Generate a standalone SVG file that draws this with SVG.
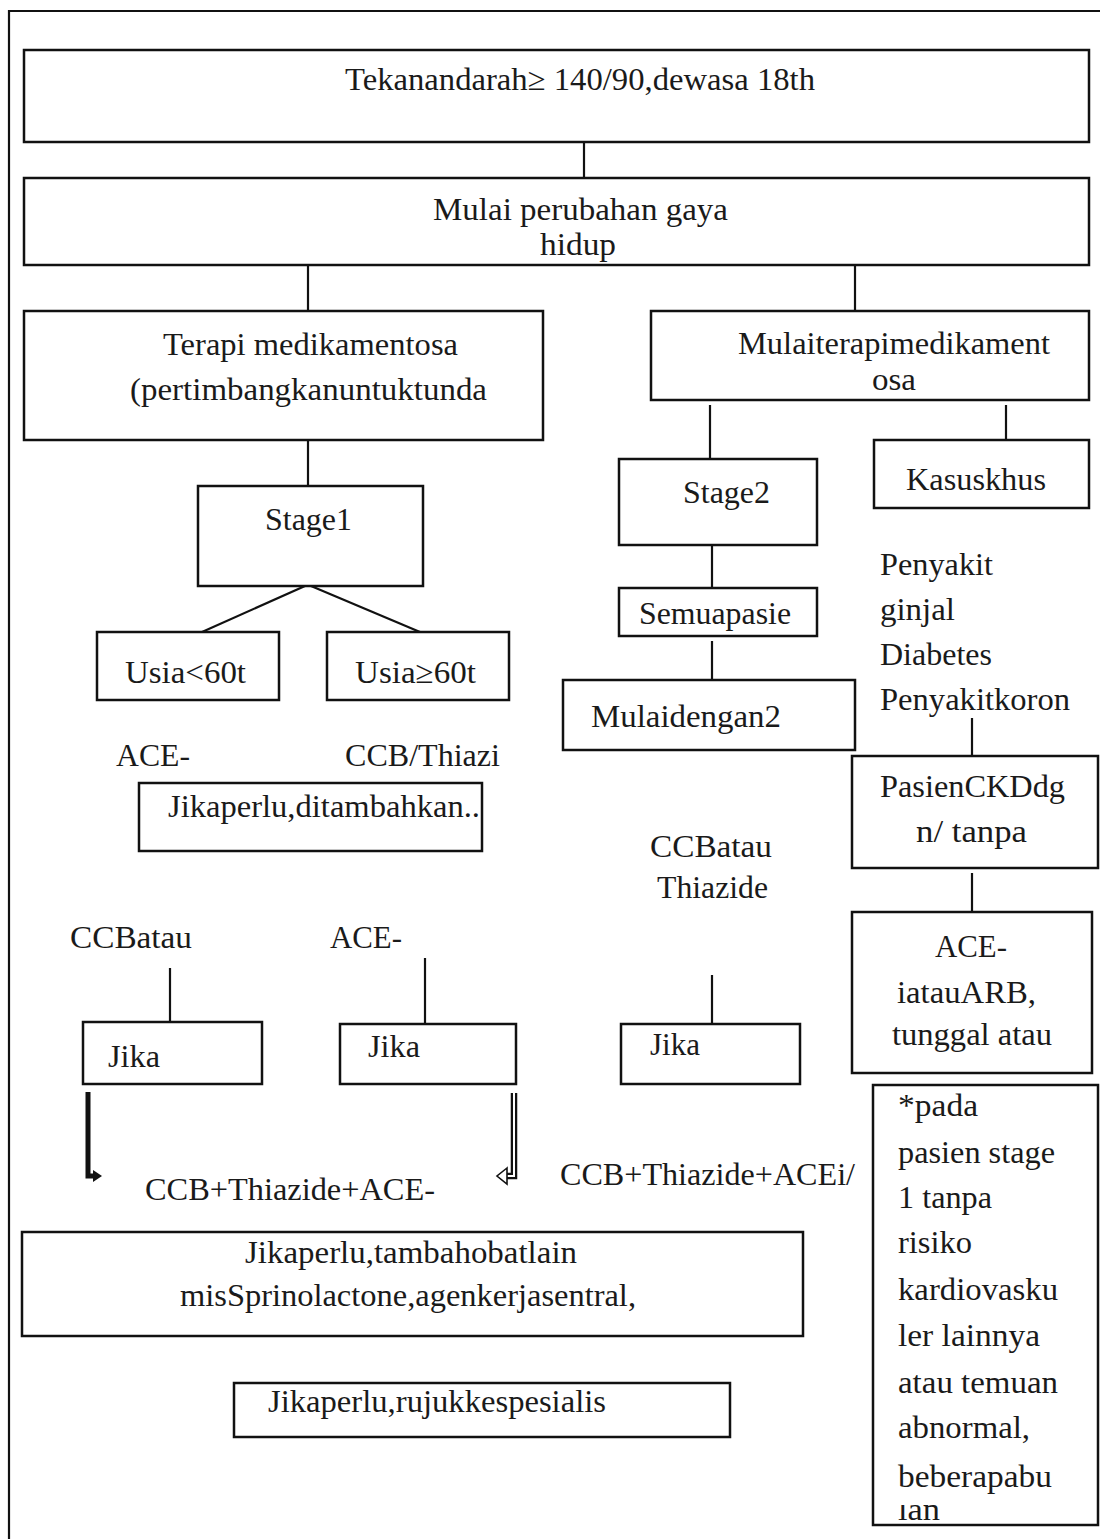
<svg xmlns="http://www.w3.org/2000/svg" width="1100" height="1539" viewBox="0 0 1100 1539">
<style>
.box{fill:none;stroke:#111;stroke-width:2.5}
.ln{fill:none;stroke:#111;stroke-width:2.2}
.t{font-family:"Liberation Serif","Times New Roman",serif;font-size:32px;fill:#1a1a1a}
</style>
<defs>
<clipPath id="noteclip"><rect x="880" y="1505" width="200" height="25"/></clipPath>
</defs>
<rect width="1100" height="1539" fill="#fff"/>
<path d="M9,1539 V11 H1100" fill="none" stroke="#111" stroke-width="2.2"/>

<g id="connectors">
<line class="ln" x1="584" y1="142" x2="584" y2="178"/>
<line class="ln" x1="308" y1="265" x2="308" y2="311"/>
<line class="ln" x1="855" y1="265" x2="855" y2="311"/>
<line class="ln" x1="308" y1="440" x2="308" y2="486"/>
<line class="ln" x1="305" y1="586" x2="202" y2="632"/>
<line class="ln" x1="311" y1="586" x2="420" y2="632"/>
<line class="ln" x1="710" y1="405" x2="710" y2="459"/>
<line class="ln" x1="1006" y1="405" x2="1006" y2="440"/>
<line class="ln" x1="712" y1="545" x2="712" y2="588"/>
<line class="ln" x1="712" y1="641" x2="712" y2="680"/>
<line class="ln" x1="972" y1="718" x2="972" y2="756"/>
<line class="ln" x1="972" y1="873" x2="972" y2="912"/>
<line class="ln" x1="170" y1="968" x2="170" y2="1022"/>
<line class="ln" x1="425" y1="958" x2="425" y2="1024"/>
<line class="ln" x1="712" y1="975" x2="712" y2="1024"/>
<path d="M88,1092 V1176 H94" fill="none" stroke="#111" stroke-width="5"/>
<polygon points="93,1170 102,1176 93,1182" fill="#111"/>
<path d="M514,1093 V1176 H505" fill="none" stroke="#111" stroke-width="6.5"/>
<path d="M514,1093 V1176 H505" fill="none" stroke="#fff" stroke-width="2"/>
<polygon points="507,1168 497,1176 507,1184" fill="#fff" stroke="#111" stroke-width="1.6"/>
</g>

<g id="n1"><rect class="box" x="24" y="50" width="1065" height="92"/>
<text class="t" x="345" y="90" textLength="470" lengthAdjust="spacingAndGlyphs">Tekanandarah≥ 140/90,dewasa 18th</text></g>

<g id="n2"><rect class="box" x="24" y="178" width="1065" height="87"/>
<text class="t" x="433" y="220" textLength="295" lengthAdjust="spacingAndGlyphs">Mulai perubahan gaya</text>
<text class="t" x="540" y="255" textLength="76" lengthAdjust="spacingAndGlyphs">hidup</text></g>

<g id="n3"><rect class="box" x="24" y="311" width="519" height="129"/>
<text class="t" x="163" y="355" textLength="295" lengthAdjust="spacingAndGlyphs">Terapi medikamentosa</text>
<text class="t" x="130" y="400" textLength="357" lengthAdjust="spacingAndGlyphs">(pertimbangkanuntuktunda</text></g>

<g id="n4"><rect class="box" x="651" y="311" width="438" height="89"/>
<text class="t" x="738" y="354" textLength="312" lengthAdjust="spacingAndGlyphs">Mulaiterapimedikament</text>
<text class="t" x="872" y="390" textLength="44" lengthAdjust="spacingAndGlyphs">osa</text></g>

<g id="n5"><rect class="box" x="198" y="486" width="225" height="100"/>
<text class="t" x="265" y="530" textLength="87" lengthAdjust="spacingAndGlyphs">Stage1</text></g>

<g id="n6"><rect class="box" x="97" y="632" width="182" height="68"/>
<text class="t" x="125" y="683" textLength="121" lengthAdjust="spacingAndGlyphs">Usia&lt;60t</text></g>

<g id="n7"><rect class="box" x="327" y="632" width="182" height="68"/>
<text class="t" x="355" y="683" textLength="121" lengthAdjust="spacingAndGlyphs">Usia≥60t</text></g>

<g id="lbl1"><text class="t" x="116" y="766" textLength="74" lengthAdjust="spacingAndGlyphs">ACE-</text>
<text class="t" x="345" y="766" textLength="155" lengthAdjust="spacingAndGlyphs">CCB/Thiazi</text></g>

<g id="n8"><rect class="box" x="139" y="783" width="343" height="68"/>
<text class="t" x="168" y="817" textLength="312" lengthAdjust="spacingAndGlyphs">Jikaperlu,ditambahkan..</text></g>

<g id="n9"><rect class="box" x="619" y="459" width="198" height="86"/>
<text class="t" x="683" y="503" textLength="87" lengthAdjust="spacingAndGlyphs">Stage2</text></g>

<g id="n10"><rect class="box" x="874" y="440" width="215" height="68"/>
<text class="t" x="906" y="490" textLength="140" lengthAdjust="spacingAndGlyphs">Kasuskhus</text></g>

<g id="n11"><rect class="box" x="619" y="588" width="198" height="48"/>
<text class="t" x="639" y="624" textLength="152" lengthAdjust="spacingAndGlyphs">Semuapasie</text></g>

<g id="n12"><rect class="box" x="563" y="680" width="292" height="70"/>
<text class="t" x="591" y="727" textLength="190" lengthAdjust="spacingAndGlyphs">Mulaidengan2</text></g>

<g id="lbl2">
<text class="t" x="880" y="575" textLength="113" lengthAdjust="spacingAndGlyphs">Penyakit</text>
<text class="t" x="880" y="620" textLength="75" lengthAdjust="spacingAndGlyphs">ginjal</text>
<text class="t" x="880" y="665" textLength="112" lengthAdjust="spacingAndGlyphs">Diabetes</text>
<text class="t" x="880" y="710" textLength="190" lengthAdjust="spacingAndGlyphs">Penyakitkoron</text>
</g>

<g id="n13"><rect class="box" x="852" y="756" width="246" height="112"/>
<text class="t" x="880" y="797" textLength="185" lengthAdjust="spacingAndGlyphs">PasienCKDdg</text>
<text class="t" x="916" y="842" textLength="111" lengthAdjust="spacingAndGlyphs">n/ tanpa</text></g>

<g id="lbl3"><text class="t" x="650" y="857" textLength="122" lengthAdjust="spacingAndGlyphs">CCBatau</text>
<text class="t" x="657" y="898" textLength="111" lengthAdjust="spacingAndGlyphs">Thiazide</text></g>

<g id="n14"><rect class="box" x="852" y="912" width="240" height="161"/>
<text class="t" x="935" y="957" textLength="72" lengthAdjust="spacingAndGlyphs">ACE-</text>
<text class="t" x="897" y="1003" textLength="139" lengthAdjust="spacingAndGlyphs">iatauARB,</text>
<text class="t" x="892" y="1045" textLength="160" lengthAdjust="spacingAndGlyphs">tunggal atau</text></g>

<g id="lbl4"><text class="t" x="70" y="948" textLength="122" lengthAdjust="spacingAndGlyphs">CCBatau</text>
<text class="t" x="330" y="948" textLength="72" lengthAdjust="spacingAndGlyphs">ACE-</text></g>

<g id="n15"><rect class="box" x="83" y="1022" width="179" height="62"/>
<text class="t" x="108" y="1067" textLength="52" lengthAdjust="spacingAndGlyphs">Jika</text></g>

<g id="n16"><rect class="box" x="340" y="1024" width="176" height="60"/>
<text class="t" x="368" y="1057" textLength="52" lengthAdjust="spacingAndGlyphs">Jika</text></g>

<g id="n17"><rect class="box" x="621" y="1024" width="179" height="60"/>
<text class="t" x="650" y="1055" textLength="50" lengthAdjust="spacingAndGlyphs">Jika</text></g>

<g id="lbl5"><text class="t" x="145" y="1200" textLength="290" lengthAdjust="spacingAndGlyphs">CCB+Thiazide+ACE-</text>
<text class="t" x="560" y="1185" textLength="295" lengthAdjust="spacingAndGlyphs">CCB+Thiazide+ACEi/</text></g>

<g id="n18"><rect class="box" x="873" y="1085" width="225" height="440"/>
<text class="t" x="898" y="1116" textLength="80" lengthAdjust="spacingAndGlyphs">*pada</text>
<text class="t" x="898" y="1163" textLength="157" lengthAdjust="spacingAndGlyphs">pasien stage</text>
<text class="t" x="898" y="1208" textLength="94" lengthAdjust="spacingAndGlyphs">1 tanpa</text>
<text class="t" x="898" y="1253" textLength="74" lengthAdjust="spacingAndGlyphs">risiko</text>
<text class="t" x="898" y="1300" textLength="160" lengthAdjust="spacingAndGlyphs">kardiovasku</text>
<text class="t" x="898" y="1346" textLength="142" lengthAdjust="spacingAndGlyphs">ler lainnya</text>
<text class="t" x="898" y="1393" textLength="160" lengthAdjust="spacingAndGlyphs">atau temuan</text>
<text class="t" x="898" y="1438" textLength="132" lengthAdjust="spacingAndGlyphs">abnormal,</text>
<text class="t" x="898" y="1487" textLength="154" lengthAdjust="spacingAndGlyphs">beberapabu</text>
<text class="t" x="898" y="1520" textLength="42" lengthAdjust="spacingAndGlyphs" clip-path="url(#noteclip)">lan</text></g>

<g id="n19"><rect class="box" x="22" y="1232" width="781" height="104"/>
<text class="t" x="245" y="1263" textLength="332" lengthAdjust="spacingAndGlyphs">Jikaperlu,tambahobatlain</text>
<text class="t" x="180" y="1306" textLength="456" lengthAdjust="spacingAndGlyphs">misSprinolactone,agenkerjasentral,</text></g>

<g id="n20"><rect class="box" x="234" y="1383" width="496" height="54"/>
<text class="t" x="268" y="1412" textLength="338" lengthAdjust="spacingAndGlyphs">Jikaperlu,rujukkespesialis</text></g>
</svg>
